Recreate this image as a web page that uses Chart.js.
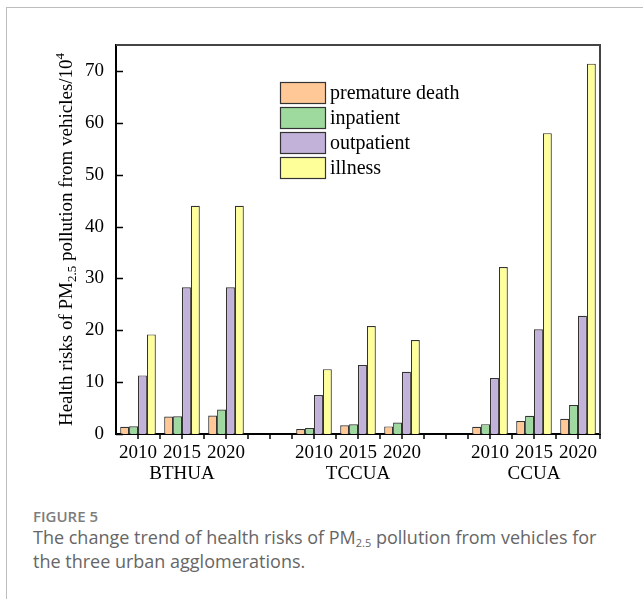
<!DOCTYPE html>
<html>
<head>
<meta charset="utf-8">
<script src="https://cdn.jsdelivr.net/npm/chart.js@4.4.1/dist/chart.umd.min.js"></script>
<style>
  html, body { margin: 0; padding: 0; background: #fff; }
  body { width: 643px; height: 599px; position: relative; overflow: hidden; }
  #frame { position: absolute; left: 6px; top: 7px; width: 700px; height: 700px;
           border-top: 1px solid #bdbdbd; border-left: 1px solid #bdbdbd; }
  #wrap { position: absolute; left: 0; top: 0; width: 643px; height: 490px; }
  #fig { position: absolute; left: 33px; top: 507px; font-family: "Open Sans", sans-serif;
         font-size: 15px; font-weight: 600; color: #7d7d7d; line-height: 18px; }
  #cap { position: absolute; left: 33px; top: 525px; width: 585px; font-family: "Open Sans", sans-serif;
         font-size: 18px; color: #666; line-height: 24px; }
  #cap sub { font-size: 11px; vertical-align: -3px; line-height: 0; }
</style>
</head>
<body>
<div id="frame"></div>
<div id="wrap"><canvas id="c" width="643" height="490"></canvas></div>
<div id="fig">FIGURE 5</div>
<div id="cap">The change trend of health risks of PM<sub>2.5</sub> pollution from vehicles for the three urban agglomerations.</div>
<script>
// ---- data ----
const years = ['2010', '2015', '2020'];
const groups = ['BTHUA', 'TCCUA', 'CCUA'];
const seriesNames = ['premature death', 'inpatient', 'outpatient', 'illness'];
const prematureDeath = [1.4, 3.35, 3.55, 0.97, 1.67, 1.47, 1.4, 2.5, 2.95];
const inpatient      = [1.5, 3.4, 4.7, 1.16, 1.86, 2.2, 1.9, 3.5, 5.6];
const outpatient     = [11.3, 28.3, 28.3, 7.5, 13.3, 12.0, 10.8, 20.2, 22.8];
const illness        = [19.2, 44.0, 44.0, 12.5, 20.8, 18.1, 32.2, 58.0, 71.4];
const yTicks = [0, 10, 20, 30, 40, 50, 60, 70];
const colors = ['#FFC896', '#9ED99E', '#C2B2D9', '#FFFF99'];

// build category list with blank spacer between groups
const labels = [];
const groupIndex = []; // maps label position -> data index or null
groups.forEach((g, gi) => {
  years.forEach((y, yi) => {
    labels.push(yi === 1 ? [y, g] : [y, '']);
    groupIndex.push(gi * years.length + yi);
  });
  if (gi < groups.length - 1) { labels.push(['', '']); groupIndex.push(null); }
});
function expand(arr) { return groupIndex.map(i => i === null ? null : arr[i]); }
const seriesData = [prematureDeath, inpatient, outpatient, illness];

const SERIF = '"Liberation Serif", "Times New Roman", serif';

const decor = {
  id: 'decor',
  afterDraw(chart) {
    const { ctx, chartArea: { left, right, top, bottom }, scales: { x, y } } = chart;
    ctx.save();
    // top & right frame
    ctx.strokeStyle = '#444';
    ctx.lineWidth = 2;
    ctx.beginPath();
    ctx.moveTo(left, top);
    ctx.lineTo(right, top);
    ctx.lineTo(right, bottom);
    ctx.stroke();
    // y ticks (inward)
    ctx.strokeStyle = '#000';
    ctx.lineWidth = 1.5;
    yTicks.forEach(v => {
      const py = Math.round(y.getPixelForValue(v)) + 0.5;
      ctx.beginPath(); ctx.moveTo(left, py); ctx.lineTo(left + 7, py); ctx.stroke();
    });
    // x ticks (centres and boundaries)
    const n = labels.length;
    for (let i = 0; i < n; i++) {
      const c = x.getPixelForValue(i);
      const half = (x.getPixelForValue(1) - x.getPixelForValue(0)) / 2;
      [c, c + half].forEach(px => {
        ctx.beginPath(); ctx.moveTo(px, bottom); ctx.lineTo(px, bottom + 5); ctx.stroke();
      });
    }
    // legend
    const lx = 280, ly = 82, bw = 45, bh = 21, step = 25;
    ctx.font = '20px ' + SERIF;
    ctx.textBaseline = 'middle';
    ctx.textAlign = 'left';
    chart.data.datasets.forEach((ds, i) => {
      const yy = ly + i * step;
      ctx.fillStyle = ds.backgroundColor;
      ctx.fillRect(lx, yy, bw, bh);
      ctx.strokeStyle = '#333';
      ctx.lineWidth = 1.2;
      ctx.strokeRect(lx + 0.5, yy + 0.5, bw, bh);
      ctx.fillStyle = '#000';
      ctx.fillText(ds.label, lx + bw + 5, yy + bh / 2 + 1);
    });
    // y title with sub/superscript
    const parts = [
      { t: 'Health risks of PM', f: 19, d: 0 },
      { t: '2.5', f: 13, d: 4 },
      { t: ' pollution from vehicles/10', f: 19, d: 0 },
      { t: '4', f: 13, d: -8 }
    ];
    let total = 0;
    parts.forEach(p => { ctx.font = p.f + 'px ' + SERIF; p.w = ctx.measureText(p.t).width; total += p.w; });
    ctx.translate(66, (top + bottom) / 2);
    ctx.rotate(-Math.PI / 2);
    ctx.textBaseline = 'alphabetic';
    ctx.fillStyle = '#000';
    let xx = -total / 2;
    parts.forEach(p => {
      ctx.font = p.f + 'px ' + SERIF;
      ctx.fillText(p.t, xx, 6 + p.d);
      xx += p.w;
    });
    ctx.restore();
  }
};

new Chart(document.getElementById('c'), {
  type: 'bar',
  data: {
    labels: labels,
    datasets: seriesNames.map((name, i) => ({
      label: name,
      data: expand(seriesData[i]),
      backgroundColor: colors[i],
      borderColor: '#333',
      borderWidth: 1.2,
      barPercentage: 1.0,
      categoryPercentage: 0.81
    }))
  },
  options: {
    responsive: false,
    devicePixelRatio: 1,
    animation: false,
    layout: { padding: { left: 0, right: 43, top: 45, bottom: 0 } },
    plugins: { legend: { display: false }, tooltip: { enabled: false } },
    scales: {
      x: {
        type: 'category',
        offset: true,
        grid: { display: false },
        border: { display: true, color: '#000', width: 2 },
        ticks: {
          color: '#000', font: { family: SERIF, size: 19, lineHeight: 1.08 },
          maxRotation: 0, autoSkip: false, padding: 1
        },
        afterFit(s) { s.height = 56; }
      },
      y: {
        min: 0, max: 75,
        grid: { display: false },
        border: { display: true, color: '#000', width: 2 },
        ticks: {
          stepSize: 10, includeBounds: false, color: '#000',
          font: { family: SERIF, size: 19 }, padding: 4
        },
        afterFit(s) { s.width = 116; }
      }
    }
  },
  plugins: [decor]
});
</script>
</body>
</html>
